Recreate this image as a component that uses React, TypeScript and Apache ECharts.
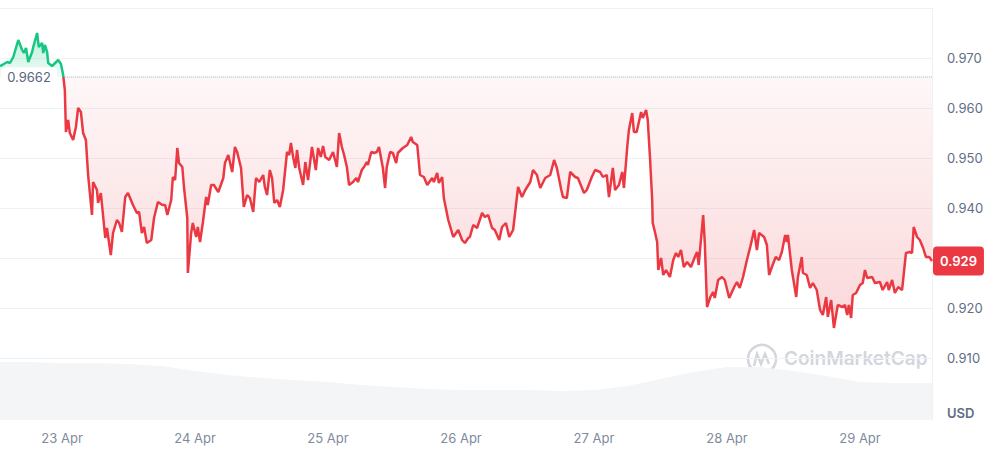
import React, { useEffect, useRef } from 'react';
import * as echarts from 'echarts';

const YEAR = 2025;
const MONTHS = ['Jan', 'Feb', 'Mar', 'Apr', 'May', 'Jun', 'Jul', 'Aug', 'Sep', 'Oct', 'Nov', 'Dec'];
const HOUR = 3600 * 1000;
const DAY = 24 * HOUR;

// opening price of the period (dotted reference line)
const basePrice = 0.9662;

// price points per day: [hour of day, price in USD]
const apr22 = [
  [12.8, 0.9684], [13.2, 0.9686], [14.1, 0.9692], [14.6, 0.969], [15.2, 0.9702], [16.1, 0.9736],
  [16.8, 0.9716], [17.1, 0.971], [17.5, 0.972], [17.9, 0.9692], [18.6, 0.9712], [18.8, 0.9722],
  [19.5, 0.975], [19.8, 0.9722], [20.4, 0.973], [20.6, 0.971], [20.9, 0.9726], [21.3, 0.9712],
  [21.5, 0.969], [22.2, 0.9684], [23.3, 0.9696], [23.8, 0.9688],
];
const apr23 = [
  [0.2, 0.9666], [0.5, 0.9636], [0.7, 0.9552], [1.1, 0.9576], [1.4, 0.955], [2.0, 0.9536],
  [2.5, 0.9562], [2.9, 0.96], [3.4, 0.9592], [3.8, 0.955], [4.3, 0.9536], [4.7, 0.9466],
  [5.4, 0.9386], [5.6, 0.9452], [6.3, 0.9436], [6.5, 0.941], [7.0, 0.943], [7.8, 0.934],
  [8.1, 0.936], [8.8, 0.9306], [9.2, 0.935], [9.9, 0.9376], [10.3, 0.937], [10.8, 0.9352],
  [11.4, 0.9422], [11.9, 0.943], [12.8, 0.9406], [13.5, 0.939], [13.9, 0.9392], [14.4, 0.935],
  [14.8, 0.9362], [15.3, 0.933], [16.1, 0.9336], [16.6, 0.938], [17.3, 0.9412], [18.1, 0.9406],
  [18.6, 0.9406], [19.0, 0.9386], [19.7, 0.9416], [20.0, 0.9462], [20.4, 0.9456], [20.8, 0.952],
  [21.1, 0.949], [21.7, 0.9482], [22.0, 0.9442], [22.6, 0.938], [22.7, 0.927], [23.3, 0.935],
  [23.6, 0.937],
];
const apr24 = [
  [0.2, 0.9342], [0.5, 0.9362], [0.9, 0.9332], [1.4, 0.937], [2.0, 0.9422], [2.3, 0.9406],
  [2.9, 0.9446], [3.4, 0.9446], [4.2, 0.9432], [5.1, 0.946], [5.4, 0.949], [6.0, 0.9506],
  [6.7, 0.9472], [7.2, 0.9522], [7.6, 0.9512], [8.3, 0.948], [8.8, 0.9402], [9.4, 0.9426],
  [9.9, 0.942], [10.5, 0.9392], [11.0, 0.946], [11.6, 0.9452], [12.3, 0.9466], [12.6, 0.9442],
  [13.0, 0.9426], [13.5, 0.9476], [13.9, 0.946], [14.3, 0.941], [14.8, 0.9416], [15.3, 0.9402],
  [15.9, 0.9436], [16.6, 0.9512], [17.0, 0.9506], [17.3, 0.953], [17.7, 0.9502], [18.1, 0.948],
  [18.4, 0.9516], [18.8, 0.948], [19.5, 0.9446], [19.9, 0.9492], [20.4, 0.9456], [21.1, 0.9522],
  [21.8, 0.9476], [22.2, 0.952], [22.7, 0.9502], [23.1, 0.9524], [23.5, 0.9502],
];
const apr25 = [
  [0.2, 0.9496], [0.9, 0.9512], [1.6, 0.9482], [2.0, 0.955], [2.5, 0.9522], [2.9, 0.9506],
  [3.4, 0.9482], [3.8, 0.9446], [4.5, 0.9452], [5.1, 0.946], [5.4, 0.9452], [6.1, 0.9476],
  [6.5, 0.9482], [7.0, 0.9492], [7.2, 0.9486], [7.8, 0.9512], [8.3, 0.951], [8.8, 0.9512],
  [9.2, 0.9522], [9.9, 0.948], [10.3, 0.944], [10.6, 0.9482], [11.2, 0.9512], [11.7, 0.951],
  [12.3, 0.949], [12.6, 0.951], [13.5, 0.952], [14.3, 0.9526], [15.0, 0.9542], [15.3, 0.9532],
  [16.1, 0.9526], [16.6, 0.9466], [17.3, 0.9462], [17.9, 0.9446], [18.8, 0.946], [19.1, 0.9452],
  [19.7, 0.947], [20.0, 0.945], [20.6, 0.9462], [20.9, 0.942], [21.7, 0.9376], [22.6, 0.9342],
  [23.5, 0.9356],
];
const apr26 = [
  [0.2, 0.9336], [0.7, 0.933], [1.3, 0.934], [1.6, 0.9342], [2.2, 0.9366], [2.9, 0.936],
  [3.8, 0.939], [4.3, 0.9382], [4.9, 0.9386], [5.6, 0.936], [6.1, 0.9356], [6.9, 0.9336],
  [7.4, 0.9362], [8.1, 0.937], [8.7, 0.9342], [9.4, 0.9356], [10.3, 0.9442], [11.0, 0.9422],
  [11.6, 0.9436], [12.5, 0.9452], [13.0, 0.9476], [13.7, 0.9466], [14.3, 0.944], [15.2, 0.946],
  [16.1, 0.9466], [16.8, 0.9496], [17.3, 0.948], [18.1, 0.9436], [18.4, 0.9422], [19.1, 0.942],
  [19.7, 0.9472], [20.6, 0.9462], [21.1, 0.946], [22.2, 0.943], [22.7, 0.9436], [23.6, 0.9462],
];
const apr27 = [
  [0.2, 0.9476], [1.1, 0.9472], [1.6, 0.9462], [2.3, 0.9466], [2.7, 0.9422], [3.4, 0.948],
  [3.8, 0.9436], [4.5, 0.9446], [5.1, 0.9472], [5.4, 0.944], [6.0, 0.9522], [6.3, 0.9556],
  [6.9, 0.959], [7.2, 0.9552], [7.7, 0.9552], [8.5, 0.9592], [8.8, 0.958], [9.4, 0.9596],
  [9.7, 0.9576], [10.1, 0.9502], [10.5, 0.9416], [10.6, 0.937], [11.0, 0.9352], [11.4, 0.9332],
  [11.6, 0.9276], [12.1, 0.93], [12.5, 0.9266], [13.0, 0.9276], [13.7, 0.9262], [14.3, 0.9296],
  [14.8, 0.931], [15.2, 0.9302], [15.7, 0.9316], [16.2, 0.9282], [16.8, 0.9292], [17.5, 0.9282],
  [18.2, 0.9302], [18.6, 0.9312], [18.9, 0.9286], [19.7, 0.9386], [20.0, 0.933], [20.4, 0.9202],
  [21.0, 0.9222], [21.5, 0.9232], [21.8, 0.922], [22.4, 0.9256], [23.1, 0.9262], [23.6, 0.9256],
];
const apr28 = [
  [0.4, 0.922], [1.3, 0.9242], [1.8, 0.9252], [2.3, 0.924], [2.9, 0.9262], [3.6, 0.9296],
  [4.2, 0.9322], [4.9, 0.9356], [5.4, 0.9316], [5.8, 0.935], [6.7, 0.9342], [7.2, 0.9326],
  [7.6, 0.9266], [8.1, 0.9282], [8.8, 0.9302], [9.4, 0.9296], [9.9, 0.9312], [10.5, 0.9346],
  [10.8, 0.9332], [11.0, 0.9346], [11.7, 0.9276], [12.5, 0.9222], [12.8, 0.9262], [13.5, 0.9302],
  [13.7, 0.927], [14.4, 0.9266], [15.0, 0.924], [15.5, 0.925], [16.2, 0.9236], [16.8, 0.9196],
  [17.3, 0.9186], [17.9, 0.9222], [18.2, 0.9182], [18.8, 0.9216], [19.3, 0.916], [20.0, 0.9206],
  [20.8, 0.9202], [21.3, 0.9206], [21.7, 0.9186], [22.0, 0.9206], [22.4, 0.918], [22.7, 0.9226],
  [23.3, 0.923],
];
const apr29 = [
  [0.0, 0.9246], [0.5, 0.925], [0.9, 0.9276], [1.3, 0.926], [2.2, 0.9262], [2.7, 0.925],
  [3.6, 0.9252], [4.1, 0.9236], [4.9, 0.9252], [5.2, 0.9236], [5.8, 0.9256], [6.3, 0.923],
  [6.9, 0.9242], [7.6, 0.9236], [8.3, 0.931], [9.0, 0.9312], [9.4, 0.931], [9.7, 0.9362],
  [10.3, 0.9342], [10.8, 0.9336], [11.4, 0.932], [11.9, 0.9302], [12.5, 0.9302], [13.0, 0.9294],
];

const priceDays = [
  { day: 22, points: apr22 },
  { day: 23, points: apr23 },
  { day: 24, points: apr24 },
  { day: 25, points: apr25 },
  { day: 26, points: apr26 },
  { day: 27, points: apr27 },
  { day: 28, points: apr28 },
  { day: 29, points: apr29 },
];

// 24h volume (M USD), one value every 6 hours from 22 Apr 12:00
const volumeStart = { day: 22, hour: 12 };
const volume = [
  58, 58, 57, 57, 56, 54, 49, 45, 42, 40, 38, 35, 33, 31, 30,
  30, 30, 29, 30, 34, 41, 48, 53, 53, 49, 44, 38, 37, 37, 37,
];

// price axis ticks
const priceMin = 0.91;
const priceMax = 0.98;
const priceStep = 0.01;

const toTime = (day: number, hour: number) => new Date(YEAR, 3, day).getTime() + hour * HOUR;

const App: React.FC = () => {
  const chartRef = useRef<HTMLDivElement>(null);

  useEffect(() => {
    if (!chartRef.current) return;
    const chart = echarts.init(chartRef.current, undefined, { renderer: 'svg' });

    const priceData = priceDays.flatMap(({ day, points }) =>
      points.map(([h, p]) => [toTime(day, h), p])
    );
    const volumeData = volume.map((v, i) => [
      toTime(volumeStart.day, volumeStart.hour + i * 6),
      v,
    ]);
    const tMin = priceData[0][0];
    const tMax = priceData[priceData.length - 1][0];
    const lastPrice = priceData[priceData.length - 1][1];
    const crossTime = (priceData.find((d) => d[1] < basePrice) || priceData[0])[0];

    const prices = priceData.map((d) => d[1]);
    const hi = Math.max(...prices, basePrice);
    const lo = Math.min(...prices, basePrice);
    const split = (hi - basePrice) / (hi - lo);

    const green = '#16c784';
    const red = '#ea3943';

    const option = {
      animation: false,
      textStyle: { fontFamily: 'Inter, "Noto Sans", sans-serif' },
      grid: [
        { left: 0, right: 55, top: 8, height: 350 },
        { left: 0, right: 55, top: 340, bottom: 30 },
      ],
      xAxis: [
        { type: 'time', gridIndex: 0, min: tMin, max: tMax, show: false },
        {
          type: 'time',
          gridIndex: 1,
          min: tMin,
          max: tMax,
          minInterval: DAY,
          maxInterval: DAY,
          axisLine: { show: false },
          axisTick: { show: false },
          splitLine: { show: false },
          axisLabel: {
            color: '#808a9d',
            fontSize: 13,
            margin: 11,
            formatter: (v: number) => {
              const d = new Date(v);
              if (d.getHours() || d.getMinutes()) return '';
              return `${d.getDate()} ${MONTHS[d.getMonth()]}`;
            },
          },
        },
      ],
      yAxis: [
        {
          type: 'value',
          gridIndex: 0,
          position: 'right',
          min: priceMin,
          max: priceMax,
          interval: priceStep,
          axisLine: { show: true, lineStyle: { color: '#eff2f5' } },
          axisTick: { show: false },
          splitLine: { lineStyle: { color: '#eff2f5' } },
          axisLabel: {
            color: '#616e85',
            fontSize: 13,
            margin: 15,
            showMaxLabel: false,
            // the tick under the current-price tag stays hidden
            formatter: (v: number) => (Math.abs(v - lastPrice) < 0.004 ? '' : v.toFixed(3)),
          },
        },
        {
          type: 'value',
          gridIndex: 1,
          position: 'right',
          min: 0,
          max: 80,
          axisLine: { show: true, lineStyle: { color: '#eff2f5' } },
          axisTick: { show: false },
          axisLabel: { show: false },
          splitLine: { show: false },
        },
      ],
      visualMap: {
        show: false,
        type: 'piecewise',
        seriesIndex: 1,
        dimension: 1,
        pieces: [
          { gt: 0, lte: basePrice, color: red },
          { gt: basePrice, lte: 2, color: green },
        ],
      },
      series: [
        {
          type: 'line',
          xAxisIndex: 1,
          yAxisIndex: 1,
          data: volumeData,
          symbol: 'none',
          silent: true,
          lineStyle: { width: 0 },
          areaStyle: { color: '#f4f5f7', opacity: 1 },
          z: 1,
        },
        {
          type: 'line',
          xAxisIndex: 0,
          yAxisIndex: 0,
          data: priceData,
          symbol: 'none',
          lineStyle: { width: 2.5 },
          areaStyle: {
            origin: basePrice,
            opacity: 1,
            color: new echarts.graphic.LinearGradient(0, 0, 0, 1, [
              { offset: 0, color: 'rgba(22,199,132,0.3)' },
              { offset: split, color: 'rgba(22,199,132,0.06)' },
              { offset: split, color: 'rgba(234,57,67,0.04)' },
              { offset: 1, color: 'rgba(234,57,67,0.2)' },
            ]),
          },
          endLabel: {
            show: true,
            distance: 1,
            formatter: () => lastPrice.toFixed(3),
            color: '#ffffff',
            fontSize: 13,
            fontWeight: 600,
            backgroundColor: red,
            padding: [8, 7],
            borderRadius: 4,
          },
          z: 3,
        },
        {
          // dotted reference line at the opening price
          type: 'line',
          xAxisIndex: 0,
          yAxisIndex: 0,
          silent: true,
          symbol: 'circle',
          symbolSize: 0,
          showSymbol: true,
          lineStyle: { color: '#a6b0c3', type: 'dotted', width: 1 },
          itemStyle: { color: '#a6b0c3' },
          data: [
            {
              value: [crossTime, basePrice],
              label: {
                show: true,
                position: 'left',
                distance: 8,
                formatter: basePrice.toFixed(4),
                color: '#58667e',
                fontSize: 13,
                backgroundColor: '#ffffff',
                padding: [3, 6],
                borderRadius: 4,
              },
            },
            { value: [tMax, basePrice] },
          ],
          z: 4,
        },
      ],
      graphic: [
        {
          type: 'text',
          left: 947,
          top: 406,
          style: { text: 'USD', fill: '#616e85', font: '600 13px Inter, sans-serif' },
        },
        {
          type: 'circle',
          silent: true,
          shape: { cx: 762, cy: 359, r: 14 },
          style: { fill: 'none', stroke: '#d3d6dc', lineWidth: 2.5 },
        },
        {
          type: 'polyline',
          silent: true,
          shape: { points: [[754, 366], [757, 354], [761, 364], [765, 354], [769, 364]] },
          style: { fill: 'none', stroke: '#d3d6dc', lineWidth: 2.5 },
        },
        {
          type: 'text',
          silent: true,
          left: 784,
          top: 349,
          style: { text: 'CoinMarketCap', fill: '#d3d6dc', font: '600 19px Inter, sans-serif' },
        },
      ],
    };

    chart.setOption(option);

    return () => {
      chart.dispose();
    };
  }, []);

  return (
    <div
      ref={chartRef}
      style={{ position: 'absolute', left: 0, top: 0, width: '987px', height: '450px' }}
    />
  );
};

export default App;
